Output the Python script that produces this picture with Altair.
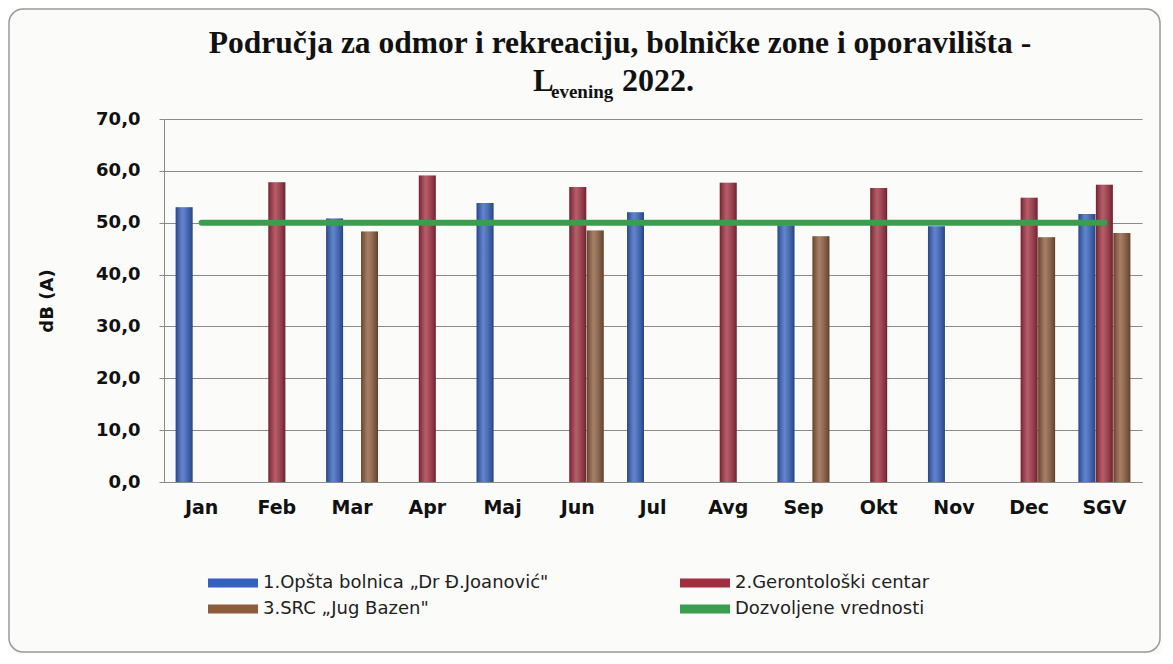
import altair as alt
import pandas as pd

months = ["Jan", "Feb", "Mar", "Apr", "Maj", "Jun", "Jul", "Avg", "Sep", "Okt", "Nov", "Dec", "SGV"]

name1 = "1.Opšta bolnica „Dr Đ.Joanović\""
name2 = "2.Gerontološki centar"
name3 = "3.SRC  „Jug Bazen\""
name_limit = "Dozvoljene vrednosti"

bolnica = [53.0, None, 50.8, None, 53.8, None, 52.0, None, 49.5, None, 49.3, None, 51.7]
gerontoloski = [None, 57.8, None, 59.1, None, 56.9, None, 57.7, None, 56.7, None, 54.8, 57.3]
jug_bazen = [None, None, 48.3, None, None, 48.5, None, None, 47.4, None, None, 47.2, 48.0]
dozvoljene = [50.0] * 13

title_line1 = "Područja za odmor i rekreaciju, bolničke zone i oporavilišta -"
title_l, title_sub, title_year = "L", "evening", "2022."

series_names = [name1, name2, name3]
legend_names = [name1, name2, name3, name_limit]
colors = ["#3461BF", "#A12F3F", "#8E5B3C", "#3A9E4E"]

rows = []
for name, vals in zip(series_names, [bolnica, gerontoloski, jug_bazen]):
    for m, v in zip(months, vals):
        if v is not None:
            rows.append({"month": m, "series": name, "value": v})
bars_df = pd.DataFrame(rows)
limit_df = pd.DataFrame({"month": months, "value": dozvoljene})

FONT = "DejaVu Sans"

x_enc = alt.X(
    "month:N",
    sort=months,
    scale=alt.Scale(domain=months, paddingInner=0.31, paddingOuter=0.155),
    axis=alt.Axis(
        title=None, labelFont=FONT, labelFontWeight="bold", labelFontSize=19,
        labelColor="#111111", labelPadding=16, ticks=False, domainColor="#8a8a8a",
        labelAngle=0, grid=False,
    ),
)
y_enc = alt.Y(
    "value:Q",
    scale=alt.Scale(domain=[0, 70], nice=False),
    axis=alt.Axis(
        values=list(range(0, 71, 10)),
        labelExpr="replace(format(datum.value, '.1f'), '.', ',')",
        title="dB (A)", titleFont=FONT, titleFontWeight="bold", titleFontSize=18,
        titleColor="#111111", titlePadding=39,
        labelFont=FONT, labelFontWeight="bold", labelFontSize=18, labelColor="#111111",
        labelPadding=19, tickSize=5, tickColor="#8a8a8a", domainColor="#8a8a8a",
        gridColor="#8a8a8a", gridWidth=1,
    ),
)
xoff = alt.XOffset("series:N", scale=alt.Scale(domain=series_names, paddingInner=0.03))

frame = alt.Chart(pd.DataFrame({"f": [0]})).mark_rect(
    filled=False, stroke="#9a9a9a", strokeWidth=1.5, cornerRadius=14
).encode(x=alt.value(-155), x2=alt.value(996), y=alt.value(-110), y2=alt.value(533))

bars = alt.Chart(bars_df).mark_bar().encode(
    x=x_enc,
    xOffset=xoff,
    y=y_enc,
    color=alt.Color(
        "series:N",
        scale=alt.Scale(domain=legend_names, range=colors),
        legend=alt.Legend(
            title=None, orient="none", legendX=60, legendY=455, columns=2,
            direction="horizontal", columnPadding=131, rowPadding=8,
            symbolType="M-5,-0.9H5V0.9H-5Z", symbolSize=100,
            symbolStrokeWidth=0, labelFont=FONT, labelFontSize=18,
            labelColor="#222222", labelLimit=500, labelOffset=21,
        ),
    ),
)

shade = alt.Chart(bars_df).mark_bar(
    fill=alt.Gradient(
        gradient="linear",
        stops=[
            alt.GradientStop(color="rgba(0,0,0,0.28)", offset=0),
            alt.GradientStop(color="rgba(255,255,255,0.22)", offset=0.4),
            alt.GradientStop(color="rgba(0,0,0,0.30)", offset=1),
        ],
        x1=0, x2=1, y1=0, y2=0,
    )
).encode(x=alt.X("month:N", sort=months), xOffset=xoff, y=alt.Y("value:Q"))

line = alt.Chart(limit_df).mark_line(
    color="#3A9E4E", strokeWidth=6, strokeCap="round"
).encode(x=alt.X("month:N", sort=months), y=alt.Y("value:Q"))

TFONT = "Liberation Serif"


def title_text(txt, size, x, y, align):
    return alt.Chart(pd.DataFrame({"t": [txt]})).mark_text(
        font=TFONT, fontSize=size, fontWeight="bold", align=align,
        baseline="alphabetic", color="#111111",
    ).encode(text="t:N", x=alt.value(x), y=alt.value(y))


t_main = title_text(title_line1, 31.5, 456, -66, "center")
t_l = title_text(title_l, 31, 369, -28, "left")
t_sub = title_text(title_sub, 19, 387, -21, "left")
t_year = title_text(title_year, 32, 458, -28, "left")

chart = alt.layer(frame, bars, shade, line, t_main, t_l, t_sub, t_year).properties(
    width=978,
    height=363,
    padding={"left": 156, "top": 111, "right": 20, "bottom": 172},
    autosize=alt.AutoSizeParams(type="none"),
    background="#fbfbfa",
).configure_view(stroke=None)

chart.save("out.html", embed_options={"renderer": "svg", "actions": False})
